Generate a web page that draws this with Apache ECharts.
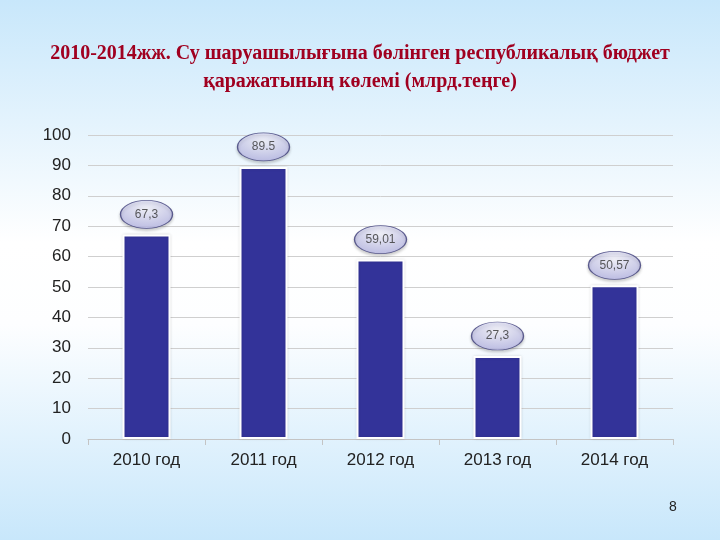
<!DOCTYPE html>
<html>
<head>
<meta charset="utf-8">
<script src="https://cdn.jsdelivr.net/npm/echarts@6/dist/echarts.min.js"></script>
<style>
  html, body { margin: 0; padding: 0; }
  #chart { width: 720px; height: 540px; }
</style>
</head>
<body>
<div id="chart"></div>
<script>
// данные
const categories = ["2010 год", "2011 год", "2012 год", "2013 год", "2014 год"];
const values = [67.3, 89.5, 59.01, 27.3, 50.57];
const valueLabels = ["67,3", "89.5", "59,01", "27,3", "50,57"];
const titleText = "2010-2014жж. Су шаруашылығына бөлінген республикалық бюджет\nқаражатының көлемі (млрд.теңге)";
const pageNumber = "8";

const chart = echarts.init(document.getElementById("chart"));

chart.setOption({
  backgroundColor: new echarts.graphic.LinearGradient(0, 0, 0, 1, [
    { offset: 0, color: "#c8e7fb" },
    { offset: 0.45, color: "#ffffff" },
    { offset: 0.6, color: "#fdfeff" },
    { offset: 1, color: "#c8e7fb" }
  ]),
  title: [
    {
      text: titleText,
      left: "center",
      top: 35,
      textStyle: {
        fontFamily: "Liberation Serif",
        fontSize: 20,
        fontWeight: "bold",
        color: "#a00020",
        lineHeight: 28,
        align: "center"
      }
    },
    {
      text: pageNumber,
      left: 664,
      top: 495,
      textStyle: { fontFamily: "Liberation Sans", fontSize: 14, fontWeight: "normal", color: "#222" }
    }
  ],
  grid: { left: 88, right: 47, top: 135, bottom: 101 },
  xAxis: {
    type: "category",
    data: categories,
    axisLine: { lineStyle: { color: "#c4c4c4", width: 1 } },
    axisTick: { show: true, length: 6, lineStyle: { color: "#c4c4c4" } },
    axisLabel: { fontFamily: "Liberation Sans", fontSize: 17, color: "#222", margin: 13 }
  },
  yAxis: {
    type: "value",
    min: 0,
    max: 100,
    interval: 10,
    axisLine: { show: false },
    axisTick: { show: false },
    axisLabel: { fontFamily: "Liberation Sans", fontSize: 17, color: "#222", margin: 17 },
    splitLine: { lineStyle: { color: "#cfcfcf", width: 1 } }
  },
  series: [
    {
      type: "bar",
      data: values,
      barWidth: 48,
      itemStyle: {
        color: "#333399",
        borderColor: "#ffffff",
        borderWidth: 2,
        shadowColor: "rgba(0,0,0,0.12)",
        shadowBlur: 3
      },
      z: 2
    },
    {
      type: "scatter",
      data: values,
      symbol: "circle",
      symbolSize: [52, 28],
      symbolOffset: [0, -20],
      itemStyle: {
        color: new echarts.graphic.RadialGradient(0.5, 0.3, 0.75, [
          { offset: 0, color: "#f6f6ff" },
          { offset: 1, color: "#b4b4e6" }
        ]),
        borderColor: "#3c3c78",
        borderWidth: 1,
        shadowColor: "rgba(0,0,0,0.25)",
        shadowBlur: 3,
        shadowOffsetY: 2
      },
      label: {
        show: true,
        position: "inside",
        formatter: p => valueLabels[p.dataIndex],
        fontFamily: "Liberation Sans",
        fontSize: 12,
        color: "#333"
      },
      z: 3
    }
  ]
});
</script>
</body>
</html>
